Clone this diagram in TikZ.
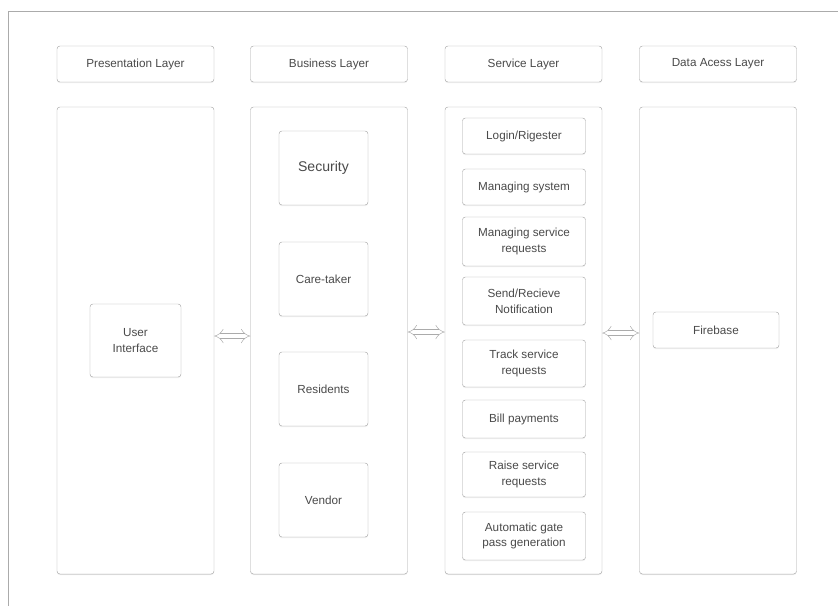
\documentclass[tikz,border=0pt]{standalone}
\usepackage{fontspec}
\setmainfont{Liberation Sans}
\usetikzlibrary{arrows.meta,shadows}
\definecolor{edge}{HTML}{ABABAB}
\definecolor{ink}{HTML}{4A4A4A}
\begin{document}
\begin{tikzpicture}[x=0.03cm,y=-0.03cm,
  box/.style={draw=edge,rounded corners=2.5pt,fill=white,text=ink,align=center,
    font=\fontsize{10}{13.5}\selectfont,inner sep=0pt,
    drop shadow={shadow xshift=0pt,shadow yshift=-1pt,opacity=0.12}},
  layer/.style={box,minimum width=4.71cm,minimum height=1.08cm},
  column/.style={box,minimum width=4.71cm,minimum height=14.01cm},
  part/.style={box,minimum width=2.67cm,minimum height=2.22cm},
  task/.style={box,minimum width=3.69cm},
  link/.style={draw=edge,double=white,double distance=4pt,{Implies}-{Implies}}]
  \useasboundingbox (0,0) rectangle (838,606);
  \draw[edge] (8,606) -- (8,11) -- (838,11);
  \node[layer] (pl) at (135.5,64) {Presentation Layer};
  \node[layer] (bl) at (329,64) {Business Layer};
  \node[layer] (sl) at (523.5,64) {Service Layer};
  \node[layer] (dl) at (718,64) {Data Acess Layer};
  \node[column] (pcol) at (135.5,340.5) {};
  \node[column] (bcol) at (329,340.5) {};
  \node[column] (scol) at (523.5,340.5) {};
  \node[column] (dcol) at (718,340.5) {};
  \node[part,minimum width=2.73cm,minimum height=2.19cm] (ui) at (135.5,340.5) {User\\Interface};
  \node[part,font=\fontsize{12}{14}\selectfont] (security) at (323.5,168) {Security};
  \node[part] (caretaker) at (323.5,279) {Care-taker};
  \node[part] (residents) at (323.5,389) {Residents};
  \node[part] (vendor) at (323.5,500) {Vendor};
  \node[task,minimum height=1.08cm] (login) at (524,136) {Login/Rigester};
  \node[task,minimum height=1.08cm] (manage) at (524,187) {Managing system};
  \node[task,minimum height=1.47cm] (requests) at (524,241.5) {Managing service\\requests};
  \node[task,minimum height=1.44cm] (notify) at (524,301) {Send/Recieve\\Notification};
  \node[task,minimum height=1.41cm] (track) at (524,363.5) {Track service\\requests};
  \node[task,minimum height=1.14cm] (bill) at (524,419) {Bill payments};
  \node[task,minimum height=1.35cm] (raise) at (524,474.5) {Raise service\\requests};
  \node[task,minimum height=1.44cm] (gatepass) at (524,536) {Automatic gate\\pass generation};
  \node[box,minimum width=3.78cm,minimum height=1.08cm] (firebase) at (716,330) {Firebase};
  \draw[link] ([yshift=0.135cm]pcol.east) -- ([yshift=0.135cm]bcol.west);
  \draw[link] ([yshift=0.255cm]bcol.east) -- ([yshift=0.255cm]scol.west);
  \draw[link] ([yshift=0.225cm]scol.east) -- ([yshift=0.225cm]dcol.west);
\end{tikzpicture}
\end{document}
